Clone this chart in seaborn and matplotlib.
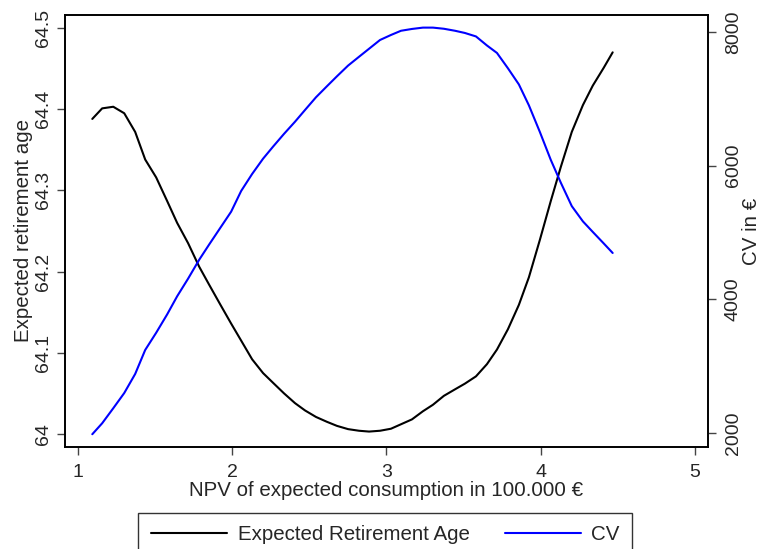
import numpy as np
import pandas as pd
import seaborn as sns
import matplotlib.pyplot as plt
from matplotlib.lines import Line2D

# values
npv = [1.093, 1.157, 1.229, 1.300, 1.371, 1.436, 1.507, 1.578, 1.643, 1.714,
       1.786, 1.850, 1.921, 1.993, 2.058, 2.129, 2.200, 2.265, 2.336, 2.407,
       2.472, 2.543, 2.614, 2.679, 2.751, 2.822, 2.887, 2.958, 3.029, 3.094,
       3.165, 3.236, 3.301, 3.372, 3.444, 3.508, 3.580, 3.651, 3.716, 3.787,
       3.858, 3.923, 3.994, 4.065, 4.130, 4.201, 4.273, 4.337, 4.408, 4.466]

ret_age = [64.388, 64.401, 64.403, 64.395, 64.372, 64.338, 64.316, 64.287, 64.260, 64.235,
           64.206, 64.184, 64.160, 64.136, 64.115, 64.092, 64.075, 64.063, 64.050, 64.038,
           64.029, 64.021, 64.015, 64.010, 64.006, 64.004, 64.003, 64.004, 64.0065, 64.012,
           64.018, 64.028, 64.036, 64.047, 64.055, 64.062, 64.071, 64.086, 64.104, 64.129,
           64.159, 64.193, 64.239, 64.287, 64.329, 64.372, 64.405, 64.429, 64.451, 64.470]

cv = [1981, 2145, 2370, 2597, 2883, 3242, 3499, 3773, 4045, 4309,
      4592, 4818, 5063, 5311, 5621, 5875, 6104, 6285, 6476, 6657,
      6833, 7023, 7188, 7337, 7497, 7629, 7749, 7880, 7955, 8018,
      8045, 8065, 8065, 8048, 8018, 7985, 7933, 7798, 7686, 7457,
      7215, 6902, 6504, 6085, 5744, 5394, 5166, 5008, 4836, 4693]

df = pd.DataFrame({"npv": npv, "age": ret_age, "cv": cv})

sns.set_style("ticks")
plt.rcParams['font.family'] = ['Liberation Sans', 'DejaVu Sans']

fig = plt.figure(figsize=(7.6, 5.49), dpi=100)
ax = fig.add_axes([0.0855, 0.1858, 0.8461, 0.7869])
ax2 = ax.twinx()

sns.lineplot(data=df, x="npv", y="age", ax=ax, color="black", lw=1.5)
sns.lineplot(data=df, x="npv", y="cv", ax=ax2, color="blue", lw=1.5)

ax.set_xlim(0.916, 5.084)
ax.set_ylim(63.984, 64.516)
ax2.set_ylim(1790, 8254)

ax.set_xticks([1, 2, 3, 4, 5])
ax.set_yticks([64, 64.1, 64.2, 64.3, 64.4, 64.5])
ax.set_yticklabels(["64", "64.1", "64.2", "64.3", "64.4", "64.5"], rotation=90, va="center")
ax2.set_yticks([2000, 4000, 6000, 8000])
ax2.set_yticklabels(["2000", "4000", "6000", "8000"], rotation=90, va="center")

for a in (ax, ax2):
    a.tick_params(labelsize=14, length=6, width=1, color="#444444")
    for s in a.spines.values():
        s.set_color("black")
        s.set_linewidth(1.2)
ax.tick_params(axis="x", pad=6.5)
ax.tick_params(axis="y", pad=3.5)
ax2.tick_params(axis="y", pad=6)

ax.set_xlabel("NPV of expected consumption in 100.000 €", fontsize=14.8, labelpad=0)
ax.set_ylabel("Expected retirement age", fontsize=14.8, labelpad=1)
ax2.set_ylabel("CV in €", fontsize=14.8, labelpad=0)

handles = [Line2D([], [], color="black", lw=1.5), Line2D([], [], color="blue", lw=1.5)]
leg = fig.legend(handles, ["Expected Retirement Age", "CV"], loc="upper center",
                 bbox_to_anchor=(0.507, 0.0656), ncol=2, fontsize=14.8, frameon=True,
                 fancybox=False, handlelength=3.7, handletextpad=0.53,
                 columnspacing=1.7, borderpad=0.6, borderaxespad=0)
leg.get_frame().set_edgecolor("black")
leg.get_frame().set_linewidth(1.0)

fig.savefig("out.png", dpi=100)
